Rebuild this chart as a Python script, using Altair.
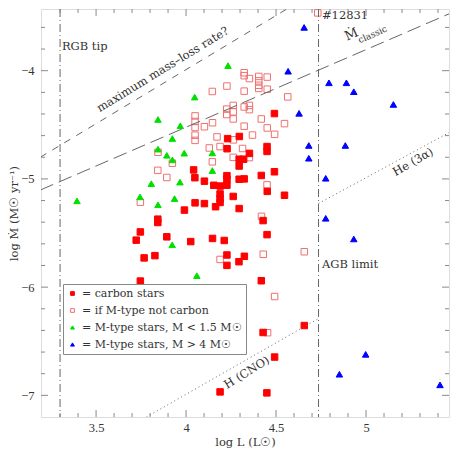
import altair as alt
import pandas as pd

# ---------------- data (log L in Lsun, log Mdot in Msun/yr) ----------------
carbon_logL = [4.042, 4.049, 4.05, 3.991, 4.102, 4.154, 4.19, 4.227, 4.227, 4.227,
               4.231, 4.228, 4.189, 4.189, 4.189, 4.164, 4.102, 3.843, 3.843, 3.746,
               3.723, 3.893, 4.026, 4.147, 4.212, 3.767, 3.827, 4.227, 4.227, 4.294,
               4.324, 3.746, 4.418, 4.428, 4.45, 4.296, 4.295, 4.32, 4.352, 4.45,
               4.45, 4.295, 4.295, 4.323, 4.418, 4.491, 4.451, 4.262, 4.295, 4.547,
               4.491, 4.189, 4.657, 4.428, 4.492, 4.449]
carbon_logM = [-4.917, -4.989, -5.221, -5.288, -5.021, -5.059, -5.066, -4.97, -5.005, -5.058,
               -4.628, -4.721, -5.139, -5.183, -5.218, -5.257, -5.228, -5.372, -5.403, -5.49,
               -5.566, -5.535, -5.579, -5.55, -5.569, -5.73, -5.709, -5.703, -5.799, -5.765,
               -5.715, -5.944, -5.941, -5.385, -5.515, -4.608, -4.818, -4.818, -4.764, -4.701,
               -4.746, -4.881, -5.003, -5.0, -4.968, -4.934, -5.115, -5.162, -5.274, -5.151,
               -4.396, -6.968, -6.355, -6.419, -6.646, -6.977]

open_logL = [3.746, 3.844, 3.924, 3.843, 3.893, 4.05, 4.05, 4.05, 4.05, 4.05,
             4.102, 4.147, 4.146, 4.172, 4.129, 4.189, 4.146, 4.227, 4.226, 4.226,
             4.262, 4.262, 4.262, 4.263, 4.262, 4.314, 4.323, 4.323, 4.352, 4.404,
             4.404, 4.404, 4.404, 4.451, 4.451, 4.323, 4.565, 4.323, 4.352, 4.352,
             4.323, 4.418, 4.451, 4.547, 4.492, 4.369, 4.352, 4.45, 4.419, 4.429,
             4.189, 4.657, 4.492, 4.453, 4.732]
open_logM = [-5.215, -4.754, -4.855, -4.921, -4.987, -4.418, -4.469, -4.525, -4.596, -4.644,
             -4.518, -4.481, -4.192, -4.612, -4.714, -4.701, -4.842, -4.142, -4.355, -4.405,
             -4.321, -4.38, -4.446, -4.639, -4.801, -4.719, -4.019, -4.046, -4.073, -4.053,
             -4.094, -4.135, -4.164, -4.059, -4.171, -4.189, -4.242, -4.335, -4.321, -4.36,
             -4.513, -4.446, -4.529, -4.489, -4.588, -4.595, -4.803, -5.055, -5.346, -5.696,
             -5.744, -5.673, -6.087, -6.421, -3.466]

low_logL = [3.394, 3.744, 3.844, 4.048, 4.233, 3.968, 3.924, 3.844, 3.893, 3.99,
            3.924, 3.807, 3.966, 3.936, 3.844, 4.146, 4.146, 3.923, 4.06]
low_logM = [-5.203, -5.166, -4.451, -4.244, -3.953, -4.509, -4.627, -4.725, -4.782, -4.762,
            -4.824, -5.044, -5.03, -5.182, -5.239, -4.76, -4.923, -5.609, -5.894]

high_logL = [4.656, 4.567, 4.794, 4.891, 4.932, 5.152, 4.628, 4.682, 4.682, 4.885,
             4.776, 4.776, 4.932, 4.998, 4.852, 5.411]
high_logM = [-3.6, -4.005, -4.112, -4.112, -4.194, -4.312, -4.394, -4.691, -4.809, -4.691,
             -4.994, -5.364, -5.555, -6.621, -6.805, -6.903]

group_labels = ["= carbon stars", "= if M-type not carbon",
                "= M-type stars, M < 1.5 M\u2609", "= M-type stars, M > 4 M\u2609"]

# reference lines (end points in data units)
rgb_tip = [3.3]
agb_limit = [4.736]
maxrate_L = [3.19, 4.63]
maxrate_M = [-4.80, -3.36]
classic_L = [3.19, 5.5]
classic_M = [-5.103, -3.447]
he_L = [4.736, 5.5]
he_M = [-5.227, -4.537]
cno_L = [3.78, 4.736]
cno_M = [-7.2, -6.29]

# annotations
ann_c_text = ["maximum mass\u2013loss rate?", "He (3\u03b1)", "H (CNO)", "\u1e40", "classic"]
ann_c_L = [3.872, 5.263, 4.339, 4.919, 5.036]
ann_c_M = [-3.994, -4.848, -6.794, -3.665, -3.665]
ann_c_ang = [328.5, 330, 328, 336, 336]
ann_c_size = [11.5, 11.5, 11.5, 13, 9]
ann_l_text = ["RGB tip", "#12831", "AGB limit"]
ann_l_L = [3.31, 4.755, 4.755]
ann_l_M = [-3.78, -3.495, -5.794]

# axis ticks
x_major = [3.5, 4.0, 4.5, 5.0]
x_minor = [3.3, 3.4, 3.6, 3.7, 3.8, 3.9, 4.1, 4.2, 4.3, 4.4, 4.6, 4.7, 4.8, 4.9,
           5.1, 5.2, 5.3, 5.4]
y_major = [-4, -5, -6, -7]
y_minor = [-3.6, -3.8, -4.2, -4.4, -4.6, -4.8, -5.2, -5.4, -5.6, -5.8, -6.2, -6.4,
           -6.6, -6.8]

# ---------------- chart ----------------
W, H = 408, 408
FONT = "DejaVu Serif"
NUMFONT = "Liberation Serif"
TXT = "#333333"
AXC = "#8a8a8a"
LINEC = "#666666"

xs = alt.Scale(domain=[3.194, 5.461], nice=False, zero=False)
ys = alt.Scale(domain=[-7.2, -3.43], nice=False, zero=False)

rows = []
for g, xl, yl in [(group_labels[1], open_logL, open_logM),
                  (group_labels[0], carbon_logL, carbon_logM),
                  (group_labels[2], low_logL, low_logM),
                  (group_labels[3], high_logL, high_logM)]:
    for a, b in zip(xl, yl):
        rows.append({"logL": a, "logM": b, "group": g})
df = pd.DataFrame(rows)

leg = alt.Legend(title=None, orient="none", legendX=22, legendY=275,
                 strokeColor="#888888", fillColor="white", padding=4, rowPadding=5,
                 symbolSize=14, symbolStrokeWidth=1, labelFont=FONT, labelFontSize=11,
                 labelColor=TXT, labelOffset=4, labelLimit=400)

xaxis = alt.Axis(values=x_major, format="~g", ticks=False, domain=False, grid=False,
                 labelFont=NUMFONT, labelFontSize=12.5, labelColor=TXT, labelPadding=4,
                 title="log L (L\u2609)", titleFont=FONT, titleFontSize=11.5,
                 titleFontWeight="normal", titleColor=TXT, titlePadding=3)
yaxis = alt.Axis(values=y_major, format="~g", ticks=False, domain=False, grid=False,
                 labelFont=NUMFONT, labelFontSize=12.5, labelColor=TXT, labelPadding=7,
                 title="log \u1e40 (M\u2609 yr\u207b\u00b9)", titleFont=FONT,
                 titleFontSize=11.5, titleFontWeight="normal", titleColor=TXT,
                 titlePadding=1)

points = alt.Chart(df).mark_point(size=42, strokeWidth=1, opacity=1, fillOpacity=1,
                                  clip=True).encode(
    x=alt.X("logL:Q", scale=xs, axis=xaxis),
    y=alt.Y("logM:Q", scale=ys, axis=yaxis),
    shape=alt.Shape("group:N", scale=alt.Scale(domain=group_labels,
                    range=["square", "square", "triangle-up", "triangle-up"]), legend=leg),
    fill=alt.Fill("group:N", scale=alt.Scale(domain=group_labels,
                  range=["#ff0000", "transparent", "#00e000", "#0000ff"]), legend=leg),
    stroke=alt.Stroke("group:N", scale=alt.Scale(domain=group_labels,
                      range=["#ff0000", "#f07070", "#00e000", "#0000ff"]), legend=leg),
)


def seg(xl, yl, dash):
    d = pd.DataFrame({"logL": xl, "logM": yl})
    return alt.Chart(d).mark_line(color=LINEC, strokeWidth=1, strokeDash=dash,
                                  clip=True).encode(
        x=alt.X("logL:Q", scale=xs), y=alt.Y("logM:Q", scale=ys))


def vline(xl, dash):
    d = pd.DataFrame({"logL": xl})
    return alt.Chart(d).mark_rule(color=LINEC, strokeWidth=1, strokeDash=dash).encode(
        x=alt.X("logL:Q", scale=xs))


lines = [
    vline(rgb_tip, [8, 3, 1, 3]),
    vline(agb_limit, [8, 3, 1, 3]),
    seg(maxrate_L, maxrate_M, [7, 7]),
    seg(classic_L, classic_M, [14, 6]),
    seg(he_L, he_M, [1, 3]),
    seg(cno_L, cno_M, [1, 3]),
]

annc = alt.Chart(pd.DataFrame({"t": ann_c_text, "logL": ann_c_L, "logM": ann_c_M,
                               "a": ann_c_ang, "s": ann_c_size})).mark_text(
    font=FONT, color=TXT, align="center", baseline="middle").encode(
    x=alt.X("logL:Q", scale=xs), y=alt.Y("logM:Q", scale=ys), text="t:N",
    angle=alt.Angle("a:Q", scale=None), size=alt.Size("s:Q", scale=None))

annl = alt.Chart(pd.DataFrame({"t": ann_l_text, "logL": ann_l_L, "logM": ann_l_M})).mark_text(
    font=FONT, color=TXT, align="left", baseline="middle", fontSize=11.5).encode(
    x=alt.X("logL:Q", scale=xs), y=alt.Y("logM:Q", scale=ys), text="t:N")


def ticks_x(vals, length, top):
    d = pd.DataFrame({"logL": vals})
    if top:
        yy, yy2 = alt.value(0), alt.value(length)
    else:
        yy, yy2 = alt.value(H), alt.value(H - length)
    return alt.Chart(d).mark_rule(color=AXC, strokeWidth=1).encode(
        x=alt.X("logL:Q", scale=xs), y=yy, y2=yy2)


def ticks_y(vals, length, right):
    d = pd.DataFrame({"logM": vals})
    if right:
        xx, xx2 = alt.value(W), alt.value(W - length)
    else:
        xx, xx2 = alt.value(0), alt.value(length)
    return alt.Chart(d).mark_rule(color=AXC, strokeWidth=1).encode(
        y=alt.Y("logM:Q", scale=ys), x=xx, x2=xx2)


tick_layers = [
    ticks_x(x_major, 7, False), ticks_x(x_minor, 4, False),
    ticks_x(x_major, 7, True), ticks_x(x_minor, 4, True),
    ticks_y(y_major, 7, False), ticks_y(y_minor, 4, False),
    ticks_y(y_major, 7, True), ticks_y(y_minor, 4, True),
]

chart = alt.layer(points, *lines, annc, annl, *tick_layers).properties(
    width=W, height=H,
    autosize=alt.AutoSizeParams(type="none"),
    padding={"left": 33, "top": 1, "right": 1, "bottom": 32},
).configure_view(stroke=AXC, strokeWidth=1).configure(background="white")

chart.save("out.html", embed_options={"renderer": "svg", "actions": False})
